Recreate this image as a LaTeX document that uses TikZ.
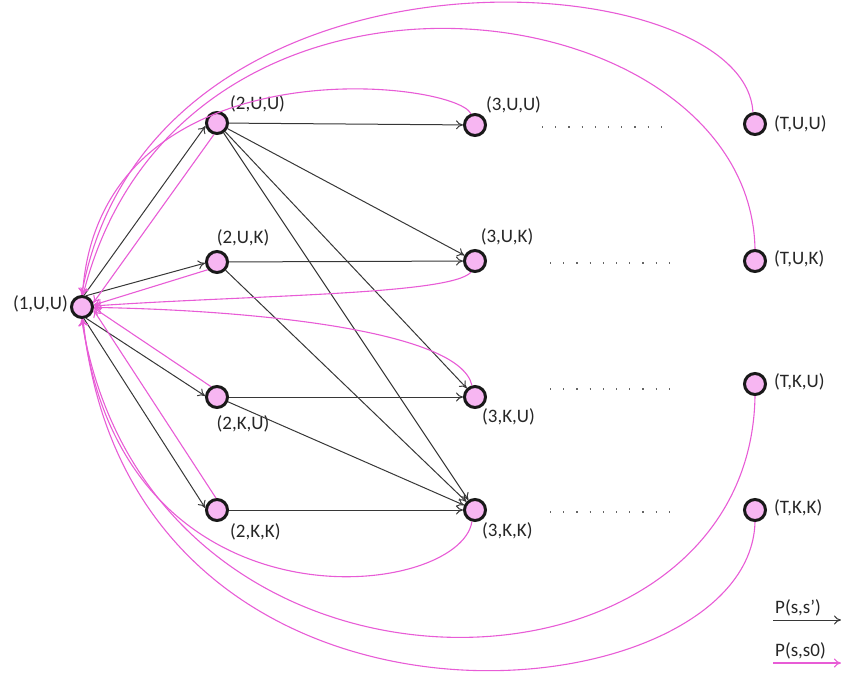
\documentclass[tikz,border=0pt]{standalone}
\usepackage{fontspec}
\setmainfont{Carlito}
\usetikzlibrary{arrows.meta}
\definecolor{nodepink}{RGB}{247,182,242}
\definecolor{backpink}{RGB}{232,92,214}
\definecolor{edgegray}{RGB}{55,55,55}
\tikzset{
  state/.style={circle, draw=black!90, line width=3pt, fill=nodepink,
    minimum size=21pt, inner sep=0pt},
  lbl/.style={font=\fontsize{19}{21}\selectfont, text=black!85, inner sep=1pt},
  fwd/.style={draw=edgegray, line width=1pt, -{To[length=7pt,width=9pt]}},
  back/.style={draw=backpink, line width=1.1pt, -{To[length=7pt,width=9pt]}},
  dotrow/.style={line width=1.3pt, draw=black!60, dash pattern=on 1.2pt off 12pt}
}
\begin{document}
\begin{tikzpicture}[x=1pt,y=-1pt]
\useasboundingbox (0,0) rectangle (841,675);

% states
\node[state] (s1uu) at (82,307) {};
\node[state] (s2uu) at (217,123) {};
\node[state] (s2uk) at (217,262) {};
\node[state] (s2ku) at (217,397) {};
\node[state] (s2kk) at (217,510) {};
\node[state] (s3uu) at (475,125) {};
\node[state] (s3uk) at (475,261) {};
\node[state] (s3ku) at (475,397) {};
\node[state] (s3kk) at (475,510) {};
\node[state] (stuu) at (755,124) {};
\node[state] (stuk) at (755,261) {};
\node[state] (stku) at (755,384) {};
\node[state] (stkk) at (755,510) {};

% state labels
\node[lbl, anchor=east] at (69,304) {(1,U,U)};
\node[lbl, anchor=west] at (229,104) {(2,U,U)};
\node[lbl, anchor=center] at (243,238) {(2,U,K)};
\node[lbl, anchor=center] at (243,424) {(2,K,U)};
\node[lbl, anchor=west] at (229,532) {(2,K,K)};
\node[lbl, anchor=west] at (485,105) {(3,U,U)};
\node[lbl, anchor=center] at (507,237) {(3,U,K)};
\node[lbl, anchor=west] at (481,417) {(3,K,U)};
\node[lbl, anchor=west] at (481,531) {(3,K,K)};
\node[lbl, anchor=west] at (773,124) {(T,U,U)};
\node[lbl, anchor=west] at (773,259) {(T,U,K)};
\node[lbl, anchor=west] at (773,382) {(T,K,U)};
\node[lbl, anchor=west] at (773,508) {(T,K,K)};

% ellipses between column 3 and column T
\coordinate (d1a) at (542,127); \coordinate (d1b) at (662,127);
\coordinate (d2a) at (550,263); \coordinate (d2b) at (670,263);
\coordinate (d3a) at (550,389); \coordinate (d3b) at (670,389);
\coordinate (d4a) at (550,512); \coordinate (d4b) at (670,512);
\foreach \a/\b in {d1a/d1b,d2a/d2b,d3a/d3b,d4a/d4b}
  \draw[dotrow] (\a) -- (\b);

% transitions P(s,s')
\draw[fwd] (s1uu.80) -- (s2uu.195);
\draw[fwd] (s1uu.70) -- (s2uk.185);
\draw[fwd] (s1uu.-70) -- (s2ku.175);
\draw[fwd] (s1uu.-80) -- (s2kk.170);
\draw[fwd] (s2uu) -- (s3uu);
\draw[fwd] (s2uu) -- (s3uk);
\draw[fwd] (s2uu) -- (s3ku);
\draw[fwd] (s2uu) -- (s3kk);
\draw[fwd] (s2uk) -- (s3uk);
\draw[fwd] (s2uk) -- (s3kk);
\draw[fwd] (s2ku) -- (s3ku);
\draw[fwd] (s2ku) -- (s3kk);
\draw[fwd] (s2kk) -- (s3kk);

% resets P(s,s0)
\draw[back] (s2uu.255) -- (s1uu.20);
\draw[back] (s2uk.220) -- (s1uu.10);
\draw[back] (s2ku.120) -- (s1uu.-5);
\draw[back] (s2kk.95) -- (s1uu.-15);
\draw[back] (s3uu.110) .. controls (455,80) and (100,40) .. (s1uu.88);
\draw[back] (s3uk.250) .. controls (450,295) and (250,295) .. (s1uu.5);
\draw[back] (s3ku.105) .. controls (460,330) and (250,310) .. (s1uu.-2);
\draw[back] (s3kk.255) .. controls (460,600) and (120,640) .. (s1uu.-88);
\draw[back] (stuu.100) .. controls (745,-40) and (150,-80) .. (s1uu.92);
\draw[back] (stuk.90) .. controls (750,-15) and (180,-90) .. (s1uu.85);
\draw[back] (stku.-90) .. controls (750,720) and (150,740) .. (s1uu.-92);
\draw[back] (stkk.-90) .. controls (750,720) and (130,780) .. (s1uu.-85);

% legend
\coordinate (l1a) at (773,620); \coordinate (l1b) at (841,620);
\coordinate (l2a) at (773,663); \coordinate (l2b) at (841,663);
\draw[fwd] (l1a) -- (l1b);
\draw[back] (l2a) -- (l2b);
\node[lbl, anchor=south west] at (774,617) {P(s,s’)};
\node[lbl, anchor=south west] at (774,660) {P(s,s0)};
\end{tikzpicture}
\end{document}
